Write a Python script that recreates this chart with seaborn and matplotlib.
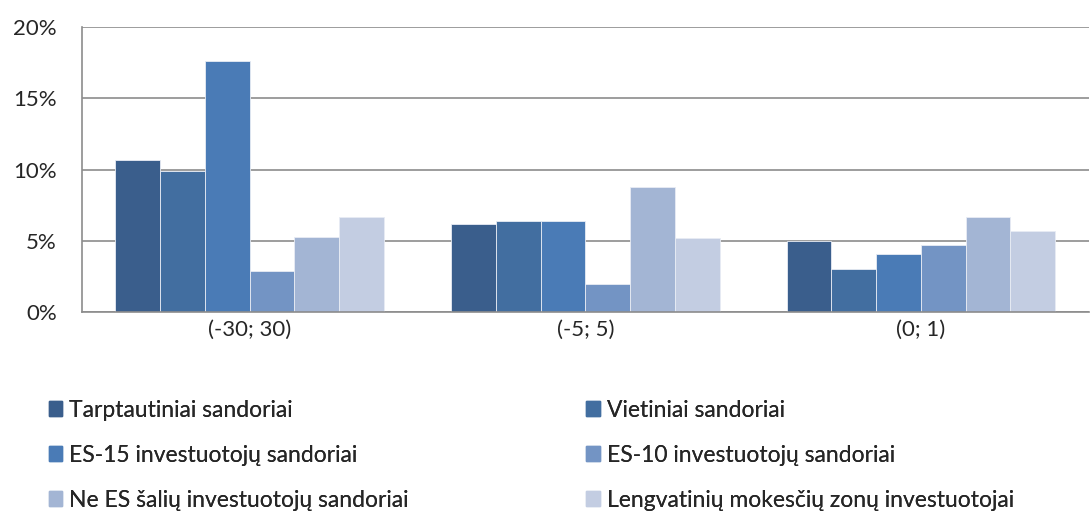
import pandas as pd
import matplotlib
matplotlib.use('Agg')
import matplotlib.pyplot as plt
import matplotlib.ticker as mticker
import seaborn as sns

# %%
categories = ['(-30; 30)', '(-5; 5)', '(0; 1)']
series = ['Tarptautiniai sandoriai', 'Vietiniai sandoriai',
          'ES-15 investuotojų sandoriai', 'ES-10 investuotojų sandoriai',
          'Ne ES šalių investuotojų sandoriai', 'Lengvatinių mokesčių zonų investuotojai']
tarptautiniai = [10.7, 6.2, 5.0]
vietiniai = [9.9, 6.4, 3.0]
es15 = [17.6, 6.4, 4.1]
es10 = [2.9, 2.0, 4.7]
ne_es = [5.3, 8.8, 6.7]
lengvatiniu = [6.7, 5.2, 5.7]
colors = ['#3A5E8C', '#426EA0', '#4A7BB6', '#7394C4', '#A3B5D4', '#C3CDE2']

values = [tarptautiniai, vietiniai, es15, es10, ne_es, lengvatiniu]
df = pd.DataFrame([(c, s, v[i]) for s, v in zip(series, values) for i, c in enumerate(categories)],
                  columns=['cat', 'series', 'val'])

# %%
sns.set_style('white')
plt.rcParams['font.family'] = ['Lato', 'DejaVu Sans']
fig = plt.figure(figsize=(10.91, 5.14), dpi=100)
ax = fig.add_axes([0.075, 0.393, 0.923, 0.554])
sns.barplot(data=df, x='cat', y='val', hue='series', palette=colors, width=0.8,
            saturation=1, edgecolor='#E8ECF4', linewidth=0.6, ax=ax, legend=False)

grid = '#8C8C8C'
ax.set(xlim=(-0.5, 2.5), ylim=(0, 20), xlabel='', ylabel='')
ax.set_yticks([0, 5, 10, 15, 20])
ax.yaxis.set_major_formatter(mticker.FuncFormatter(lambda v, p: f'{v:.0f}%'))
ax.yaxis.grid(True, color=grid, linewidth=1.2)
ax.set_axisbelow(True)
for s in ['top', 'right']:
    ax.spines[s].set_visible(False)
for s in ['left', 'bottom']:
    ax.spines[s].set_color(grid)
    ax.spines[s].set_linewidth(1.2)
ax.set_xticks([-0.5, 0.5, 1.5, 2.5], minor=True)
ax.tick_params(axis='x', which='major', length=0, pad=6, labelsize=16)
ax.tick_params(axis='x', which='minor', length=7, color=grid, width=1.2, direction='out')
ax.tick_params(axis='y', length=7, color=grid, width=1.2, direction='out', labelsize=16, pad=11)

# legend: two columns, placed separately
handles = [plt.Rectangle((0, 0), 1, 1, color=c) for c in colors]
for col, x0 in [(0, 0.034), (1, 0.527)]:
    idx = [col, col + 2, col + 4]
    leg = fig.legend([handles[i] for i in idx], [series[i] for i in idx],
                     loc='upper left', bbox_to_anchor=(x0, 0.245), frameon=False,
                     fontsize=16.5, handlelength=0.6, handleheight=0.6, handletextpad=0.3,
                     labelspacing=1.05, borderpad=0)
    fig.add_artist(leg)

fig.savefig('out.png', dpi=100)
